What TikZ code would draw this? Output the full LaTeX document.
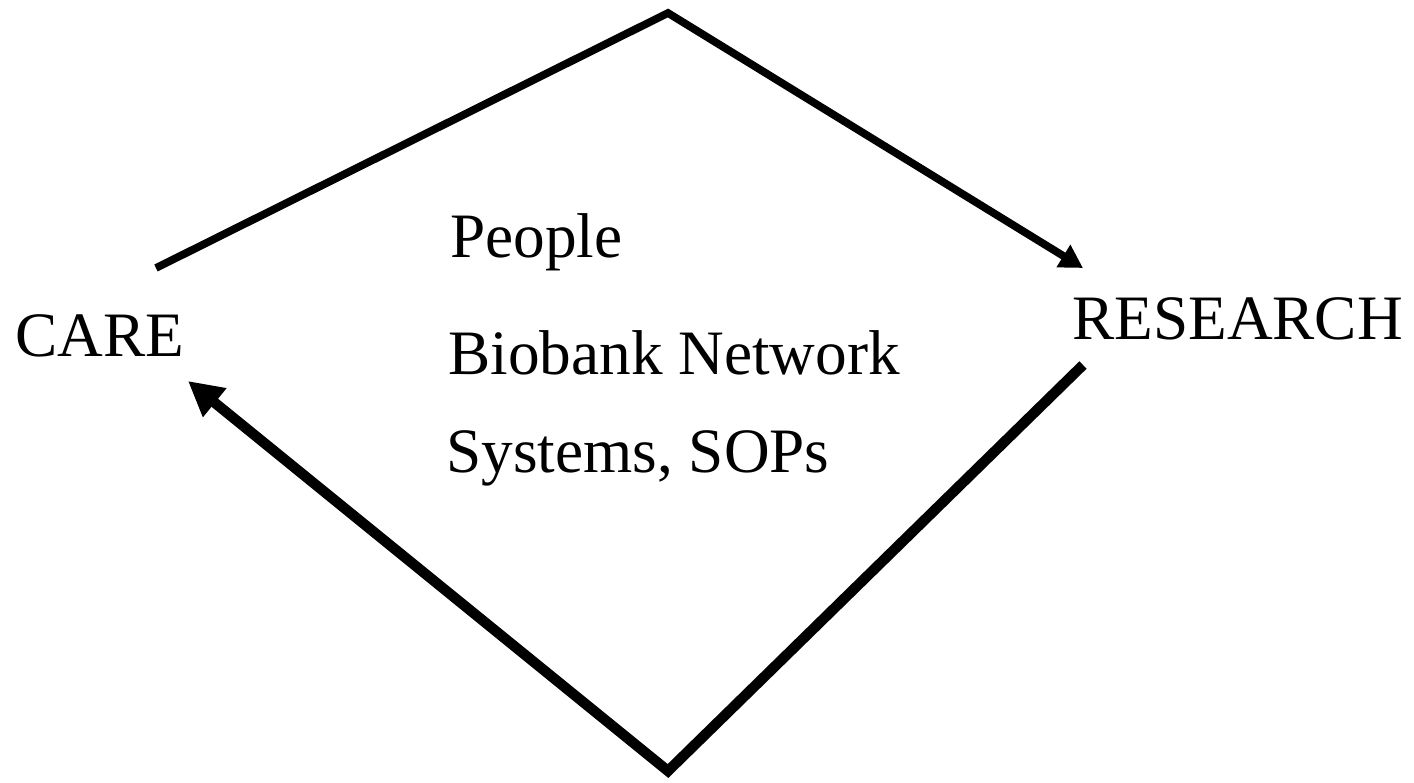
\documentclass[tikz,border=0pt]{standalone}
\usepackage{fontspec}
\setmainfont{Liberation Serif}
\usetikzlibrary{arrows.meta}

\tikzset{
	label/.style={inner sep=0pt, anchor=base west, font=\fontsize{36}{44}\selectfont},
	thinflow/.style={line width=4.4pt, line join=miter},
	thickflow/.style={line width=5.9pt, line join=miter}
}

\begin{document}
\begin{tikzpicture}[scale=0.2]
	\useasboundingbox (0, 0) rectangle (141.4, 78.3);
	\node[label] (care) at (1.5, 42.6) {CARE};
	\node[label] (research) at (107.2, 44.3) {RESEARCH};
	\node[label] (people) at (45.0, 52.5) {People};
	\node[label] (network) at (44.8, 40.8) {Biobank Network};
	\node[label] (systems) at (44.6, 31.0) {Systems, SOPs};
	\coordinate (careout) at (15.6, 51.5);
	\coordinate (top) at (66.8, 77.0);
	\coordinate (researchin) at (108.3, 51.5);
	\coordinate (researchout) at (108.3, 41.8);
	\coordinate (bottom) at (66.8, 1.2);
	\coordinate (carein) at (18.8, 40.2);
	\draw[thinflow, -{Triangle[length=0.46cm, width=0.5cm]}] (careout) -- (top) -- (researchin);
	\draw[thickflow, -{Triangle[length=0.69cm, width=0.7cm]}] (researchout) -- (bottom) -- (carein);
\end{tikzpicture}
\end{document}
